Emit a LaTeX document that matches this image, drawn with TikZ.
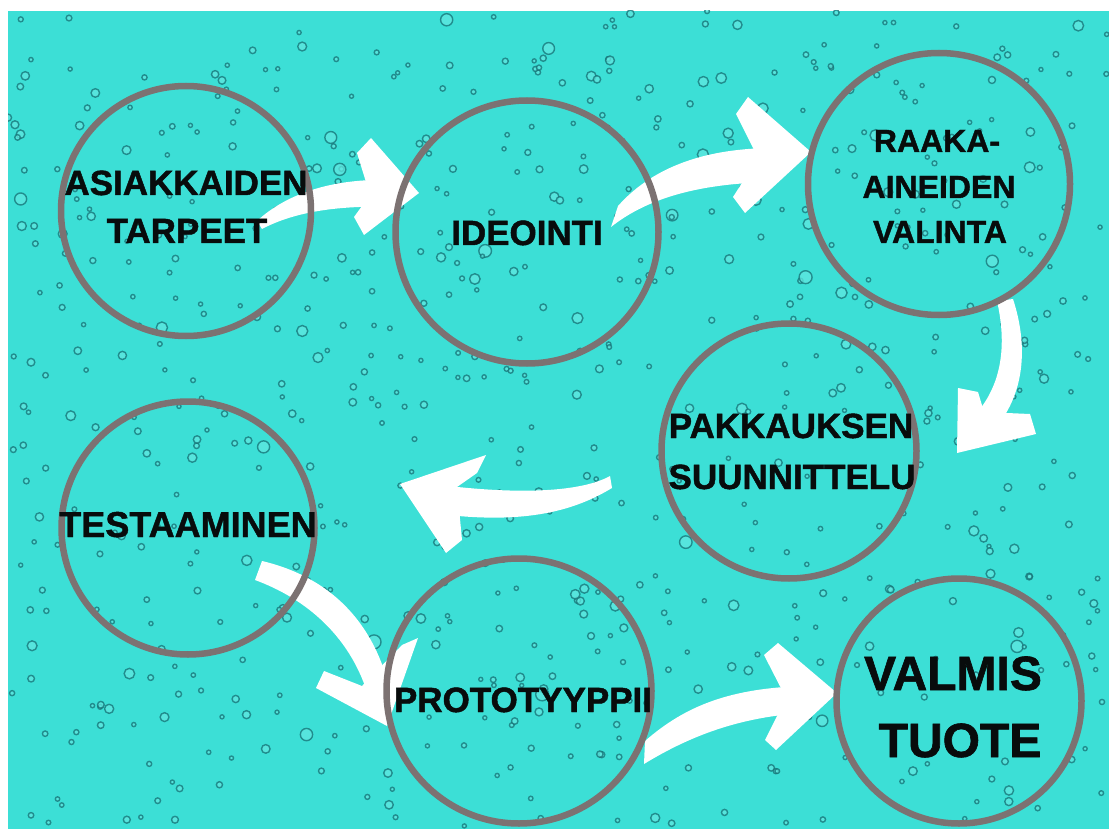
\documentclass[tikz,border=0pt]{standalone}
\usepackage{fontspec}
\setmainfont[BoldFeatures={FakeBold=1.3}]{Liberation Sans}
\definecolor{bgteal}{RGB}{60,223,214}
\definecolor{ringgray}{RGB}{124,114,114}
\definecolor{dropedge}{RGB}{20,112,116}
\definecolor{droplight}{RGB}{96,232,224}
\definecolor{txt}{RGB}{8,12,12}
\begin{document}
\begin{tikzpicture}[x=1pt,y=-1pt,
  ring/.style={circle,draw=ringgray,line width=6.5pt,minimum size=#1,inner sep=0pt},
  lbl/.style={anchor=base,inner sep=0pt,text=txt,font=\bfseries\fontsize{35}{42}\selectfont},
  lblsm/.style={lbl,font=\bfseries\fontsize{32}{40}\selectfont},
  lblbig/.style={lbl,font=\bfseries\fontsize{48}{56}\selectfont},
  brush/.style={fill=white},
  drop/.style={draw=dropedge,fill=droplight,line width=1.4pt,opacity=0.75}]
\useasboundingbox (0,0) rectangle (1109,829);
\fill[white] (0,0) rectangle (1109,829);
\fill[bgteal] (8,11) rectangle (1109,829);
% droplets
\begin{scope}
\clip (8,11) rectangle (1109,829);
\pgfmathsetseed{7}
\foreach \i in {1,...,700}{
  \pgfmathsetmacro\dx{8+1101*rnd}
  \pgfmathsetmacro\dy{11+818*rnd}
  \pgfmathsetmacro\dr{2+7*rnd*rnd*rnd}
  \draw[drop] (\dx,\dy) circle[radius=\dr];
}
\end{scope}
% arrows (brush strokes)
% 1: asiakkaiden -> ideointi
\fill[brush] (257,221) .. controls (285,195) and (330,178) .. (392,180) -- (392,207) .. controls (335,205) and (292,213) .. (262,229) -- cycle;
\fill[brush] (371,138) -- (419,193) -- (364,235) -- (354,217) -- (370,195) -- (357,153) -- cycle;
% 2: ideointi -> raaka-aineiden
\fill[brush] (618,206) .. controls (650,170) and (700,148) .. (775,148) -- (775,182) .. controls (705,183) and (650,196) .. (611,227) -- cycle;
\fill[brush] (748,97) -- (811,152) -- (745,213) -- (733,197) -- (758,158) -- (736,114) -- cycle;
% 3: raaka-aineiden -> pakkauksen
\fill[brush] (997,301) .. controls (1007,345) and (1002,385) .. (975,415) -- (992,432) .. controls (1026,395) and (1028,345) .. (1013,299) -- cycle;
\fill[brush] (958,388) -- (978,392) -- (984,412) -- (1030,414) -- (1036,434) -- (957,453) -- cycle;
% 4: pakkauksen -> testaaminen
\fill[brush] (610,476) .. controls (585,490) and (530,496) .. (440,485) -- (440,514) .. controls (535,526) and (582,506) .. (612,488) -- cycle;
\fill[brush] (400,484) -- (486,455) -- (477,473) -- (457,487) -- (462,540) -- (446,553) -- cycle;
% 5: testaaminen -> prototyyppii
\fill[brush] (262,561) .. controls (318,574) and (375,612) .. (392,700) -- (371,706) .. controls (354,636) and (304,598) .. (255,580) -- cycle;
\fill[brush] (387,726) -- (316,688) -- (324,671) -- (362,686) -- (402,645) -- (418,638) -- cycle;
% 6: prototyyppii -> valmis tuote
\fill[brush] (645,741) .. controls (685,706) and (730,688) .. (805,686) -- (805,713) .. controls (735,717) and (685,739) .. (644,764) -- cycle;
\fill[brush] (778,643) -- (837,693) -- (776,750) -- (765,740) -- (786,698) -- (764,655) -- cycle;
% circles
\node[ring=250pt] (c1) at (186,211) {};
\node[ring=263pt] (c2) at (527,232) {};
\node[ring=262pt] (c3) at (939,184) {};
\node[ring=255pt] (c4) at (789,451) {};
\node[ring=253pt] (c5) at (188,528) {};
\node[ring=265pt] (c6) at (519,691) {};
\node[ring=245pt] (c7) at (959,701) {};
% labels
\node[lbl] (t1a) at (186,195) {ASIAKKAIDEN};
\node[lbl] (t1b) at (187,243) {TARPEET};
\node[lbl] (t2) at (527,245) {IDEOINTI};
\node[lblsm] (t3a) at (937,152) {RAAKA-};
\node[lblsm] (t3b) at (939,198) {AINEIDEN};
\node[lblsm] (t3c) at (940,243) {VALINTA};
\node[lbl] (t4a) at (791,438) {PAKKAUKSEN};
\node[lbl] (t4b) at (792,489) {SUUNNITTELU};
\node[lbl,font=\bfseries\fontsize{36}{42}\selectfont] (t5) at (188,537) {TESTAAMINEN};
\node[lbl] (t6) at (523,712) {PROTOTYYPPII};
\node[lblbig] (t7a) at (953,690) {VALMIS};
\node[lblbig] (t7b) at (960,757) {TUOTE};
\end{tikzpicture}
\end{document}
